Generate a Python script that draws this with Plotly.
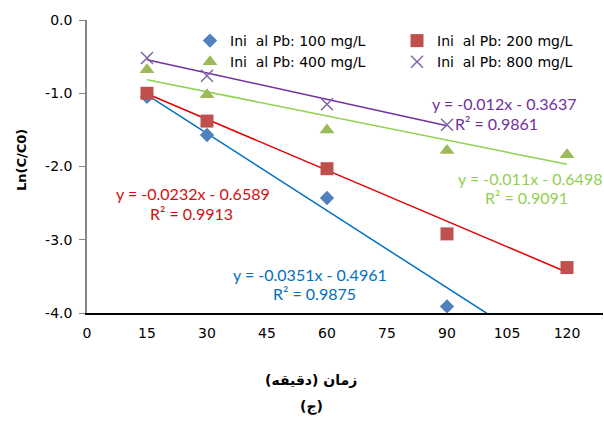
import plotly.graph_objects as go

# ---- data ----
time_min = [15, 30, 60, 90, 120]
pb100 = [-1.05, -1.57, -2.43, -3.91]
pb200 = [-1.00, -1.38, -2.03, -2.92, -3.38]
pb400 = [-0.68, -1.02, -1.50, -1.78, -1.84]
pb800 = [-0.52, -0.76, -1.15, -1.43]

series_names = ["Ini  al Pb: 100 mg/L", "Ini  al Pb: 200 mg/L",
                "Ini  al Pb: 400 mg/L", "Ini  al Pb: 800 mg/L"]
slopes = [-0.0351, -0.0232, -0.011, -0.012]
intercepts = [-0.4961, -0.6589, -0.6498, -0.3637]
r2 = ["0.9875", "0.9913", "0.9091", "0.9861"]
fit_x_end = [100, 120, 120, 90]

x_ticks = [0, 15, 30, 45, 60, 75, 90, 105, 120]
y_ticks = [0, -1, -2, -3, -4]
y_ticklabels = ["0.0", "-1.0", "-2.0", "-3.0", "-4.0"]

marker_colors = ["#4F81BD", "#C0504D", "#9BBB59", "#8064A2"]
line_colors = ["#0070C0", "#E00000", "#92D050", "#7030A0"]
text_colors = ["#0070C0", "#D01010", "#92D050", "#7030A0"]
symbols = ["diamond", "square", "triangle-up", "x-thin-open"]
sizes = [11, 13, 13, 12]

values = [pb100, pb200, pb400, pb800]

# plot area in pixels
PL, PR, PT, PB = 87, 603, 20, 313
W, H = 604, 423

def px(x):
    return (x - PL) / (PR - PL)

def py(y):
    return (PB - y) / (PB - PT)

fig = go.Figure()

# trendlines
for i in range(4):
    xs = [15, fit_x_end[i]]
    ys = [slopes[i] * x + intercepts[i] for x in xs]
    fig.add_trace(go.Scatter(x=xs, y=ys, mode="lines",
                             line=dict(color=line_colors[i], width=1.5),
                             showlegend=False, hoverinfo="skip"))

for i in range(4):
    vals = values[i]
    mk = dict(symbol=symbols[i], size=sizes[i], color=marker_colors[i])
    if i == 3:
        mk["line"] = dict(color=marker_colors[i], width=1.5)
    fig.add_trace(go.Scatter(x=time_min[:len(vals)], y=vals, mode="markers",
                             marker=mk, name=series_names[i]))

# equation labels (pixel centres)
eq_pos = [(310, 274), (193, 193), (530, 178), (504, 103)]
r2_pos = [(314, 293), (191, 213), (526, 197), (496, 123)]
for i in range(4):
    eq = f"y = {slopes[i]:g}x - {abs(intercepts[i]):.4f}"
    for txt, pos in ((eq, eq_pos[i]), (f"R² = {r2[i]}", r2_pos[i])):
        fig.add_annotation(text=txt, x=px(pos[0]), y=py(pos[1]),
                           xref="paper", yref="paper", showarrow=False,
                           xanchor="center", yanchor="middle",
                           font=dict(family="Lato", size=16, color=text_colors[i]))

# axis titles
fig.add_annotation(text="<b>زمان (دقیقه)</b>", x=px(311), y=py(380),
                   xref="paper", yref="paper", showarrow=False,
                   xanchor="center", yanchor="middle",
                   font=dict(family="DejaVu Sans", size=14, color="black"))
fig.add_annotation(text="<b>(ج)</b>", x=px(311), y=py(406),
                   xref="paper", yref="paper", showarrow=False,
                   xanchor="center", yanchor="middle",
                   font=dict(family="DejaVu Sans", size=14, color="black"))
fig.add_annotation(text="<b>Ln(C/C0)</b>", x=px(21), y=py(160), textangle=-90,
                   xref="paper", yref="paper", showarrow=False,
                   xanchor="center", yanchor="middle",
                   font=dict(family="DejaVu Sans", size=13, color="black"))

fig.update_layout(
    width=W, height=H,
    margin=dict(l=PL, r=W - PR, t=PT, b=H - PB, autoexpand=False),
    paper_bgcolor="white", plot_bgcolor="white",
    font=dict(family="DejaVu Sans", size=14, color="black"),
    showlegend=True,
    legend=dict(orientation="h", x=190 / W, y=1 - 25 / H,
                xref="container", yref="container",
                xanchor="left", yanchor="top",
                entrywidth=162, entrywidthmode="pixels",
                font=dict(family="DejaVu Sans", size=14, color="black"),
                bgcolor="rgba(0,0,0,0)", tracegroupgap=0),
    xaxis=dict(range=[0, 129], tickvals=x_ticks, showgrid=False, zeroline=False,
               showline=True, linecolor="black", linewidth=1.5, ticks="",
               ticklabelstandoff=6, tickfont=dict(size=14)),
    yaxis=dict(range=[-4, 0], tickvals=y_ticks, ticktext=y_ticklabels,
               showgrid=False, zeroline=False,
               showline=True, linecolor="#868686", linewidth=1.5, ticks="outside",
               ticklen=6, tickcolor="#868686", tickfont=dict(size=14),
               ticklabelstandoff=4),
)

fig.write_html("out.html", config={"displayModeBar": False},
               post_script="document.body.style.margin='0';document.body.style.overflow='hidden';")
